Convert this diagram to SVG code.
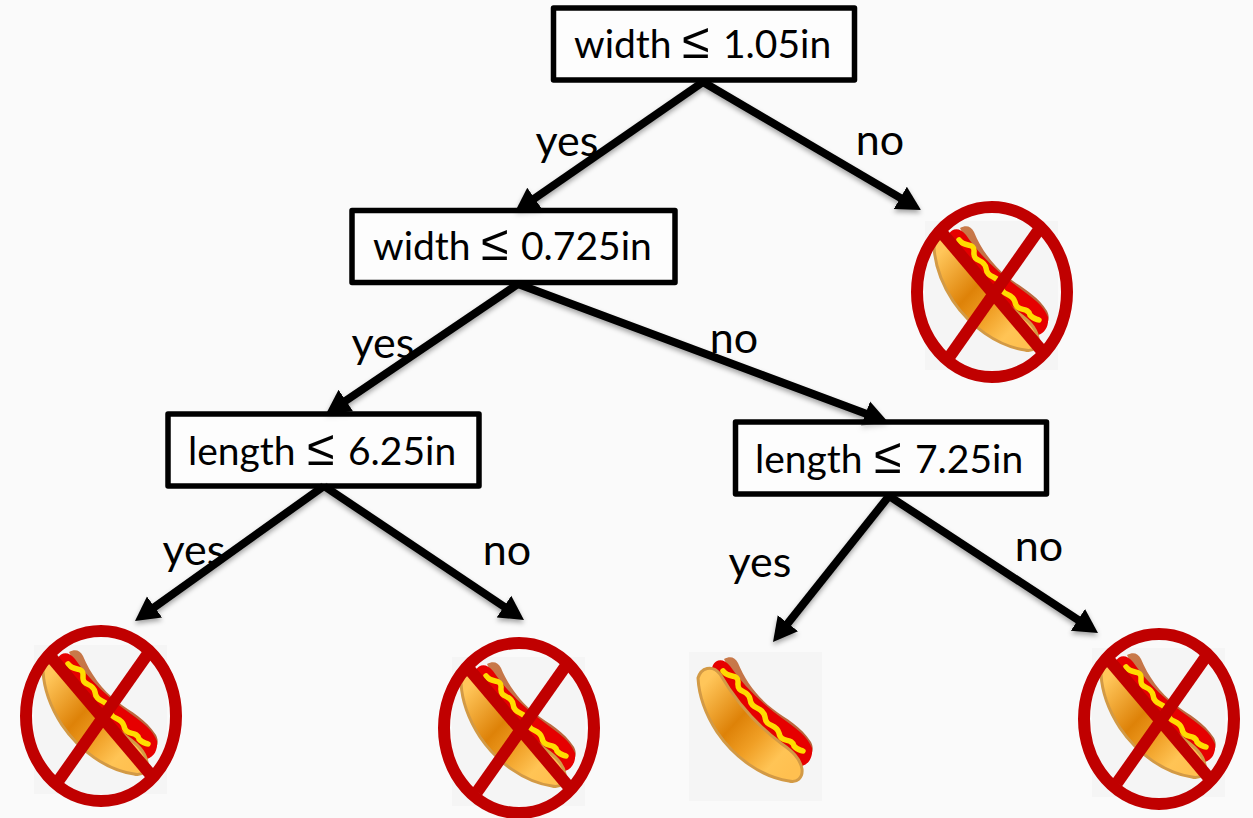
<svg xmlns="http://www.w3.org/2000/svg" width="1253" height="818" viewBox="0 0 1253 818">
<style>
.box{fill:#fff;fill-opacity:.55;stroke:#000;stroke-width:5.5;stroke-linejoin:round}
.t{font-family:"Lato","Liberation Sans",sans-serif;font-size:39px;fill:#000}
.lbl{font-size:43px}
.le{font-family:"DejaVu Sans",sans-serif;font-weight:200;font-size:50px}
.m{text-anchor:middle}
.c line{stroke:#000;stroke-width:8;marker-end:url(#a)}
.ban{fill:none;stroke:#c00000;stroke-width:12}
</style>
<defs>
<marker id="a" markerUnits="userSpaceOnUse" markerWidth="26" markerHeight="28" refX="2" refY="14" orient="auto" viewBox="0 0 26 28"><path d="M0 1 L24 14 L0 27 Z" fill="#000"/></marker>
<filter id="sh" x="-10%" y="-10%" width="120%" height="120%"><feDropShadow dx="0" dy="3" stdDeviation="2.500" flood-color="#000" flood-opacity=".35"/></filter>
<linearGradient id="bun" x1="0.1" y1="0.1" x2="0.9" y2="0.9"><stop offset="0" stop-color="#ffc65a"/><stop offset=".4" stop-color="#de8208"/><stop offset=".62" stop-color="#f09f25"/><stop offset=".85" stop-color="#ffc455"/><stop offset="1" stop-color="#ffc050"/></linearGradient>
<linearGradient id="back" x1="0" y1="0" x2="1" y2="1"><stop offset="0" stop-color="#c97a4a"/><stop offset="1" stop-color="#b5603a"/></linearGradient>
<g id="dog">
<rect width="133" height="149" fill="#f5f5f5"/>
<path d="M35 7 C41 4 46 5 49 11 C56 28 68 45 84 57 C97 67 112 74 122 90 C125 96 124 102 119 106 L60 60 Z" fill="url(#back)"/>
<path d="M24 13 C27 7 35 6 41 14 C56 36 76 54 97 69 C108 77 118 84 123 96 C124 105 120 112 113 114 C106 112 98 106 90 100 C66 82 42 60 25 34 C22 27 21 20 24 13Z" fill="#e60000"/>
<path d="M34 19 C40 27 50 21 49 31 C48 42 59 37 61 47 C62 58 74 54 76 65 C77 76 87 71 90 81 C92 92 103 85 105 94 C108 98 111 98 114 99" fill="none" stroke="#ffdc00" stroke-width="5.500" stroke-linecap="round"/>
<path d="M9 26 C12 16 23 12 31 22 C46 48 66 72 93 92 C103 99 111 106 113 117 C114 126 108 131 100 129 C72 125 45 105 28 80 C17 63 10 45 9 26Z" fill="url(#bun)" stroke="#d39a45" stroke-width="3"/>
</g>
<g id="nope">
<use href="#dog" x="-67" y="-71"/>
<ellipse class="ban" rx="75" ry="85"/>
<line class="ban" x1="-50" y1="-59" x2="50" y2="59"/>
<line class="ban" x1="46" y1="-61" x2="-42" y2="64"/>
</g>
</defs>
<rect width="1253" height="818" fill="#fafafa"/>
<g id="connectors" class="c" filter="url(#sh)">
<line x1="703" y1="82" x2="533" y2="199.500"/>
<line x1="703" y1="82" x2="902" y2="198.900"/>
<line x1="518" y1="284" x2="344.200" y2="401.700"/>
<line x1="518" y1="284" x2="867.400" y2="414.300"/>
<line x1="324" y1="486" x2="152.900" y2="608.200"/>
<line x1="324" y1="486" x2="505.700" y2="607.700"/>
<line x1="889" y1="496" x2="786.700" y2="624.800"/>
<line x1="889" y1="496" x2="1079.600" y2="620.900"/>
</g>
<g id="edge-labels" class="t lbl m">
<text x="567" y="156">yes</text>
<text x="880" y="155">no</text>
<text x="383" y="358">yes</text>
<text x="734" y="353">no</text>
<text x="194" y="565">yes</text>
<text x="507" y="565">no</text>
<text x="760" y="577">yes</text>
<text x="1039" y="561">no</text>
</g>
<g id="n1"><rect class="box" x="553.500" y="8" width="301" height="72"/><text class="t" y="58"><tspan x="574">width</tspan> <tspan class="le" x="682">≤</tspan> <tspan x="723">1.05in</tspan></text></g>
<g id="n2"><rect class="box" x="352" y="210.500" width="323" height="72"/><text class="t" y="260"><tspan x="373">width</tspan> <tspan class="le" x="481">≤</tspan> <tspan x="521">0.725in</tspan></text></g>
<g id="n3"><rect class="box" x="168" y="414" width="311" height="72"/><text class="t" y="465"><tspan x="188">length</tspan> <tspan class="le" x="307">≤</tspan> <tspan x="348">6.25in</tspan></text></g>
<g id="n4"><rect class="box" x="735.500" y="422" width="311" height="72"/><text class="t" y="473"><tspan x="755">length</tspan> <tspan class="le" x="874">≤</tspan> <tspan x="915">7.25in</tspan></text></g>
<g id="leaf-top-right"><use href="#nope" x="992" y="292"/></g>
<g id="leaf-a"><use href="#nope" x="101" y="716"/></g>
<g id="leaf-b"><use href="#nope" x="519" y="728"/></g>
<g id="leaf-c"><use href="#dog" x="689" y="652"/></g>
<g id="leaf-d"><use href="#nope" x="1159" y="719"/></g>
</svg>
